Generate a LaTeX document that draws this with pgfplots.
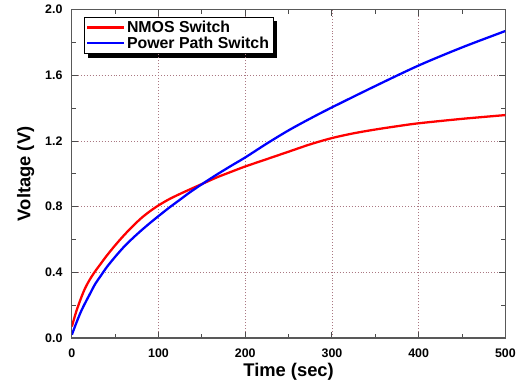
\documentclass[border=0pt]{standalone}
\usepackage{pgfplots}
\pgfplotsset{compat=1.18}
\usepackage{fontspec}
\setmainfont{Liberation Sans}
\usetikzlibrary{backgrounds}
\definecolor{gridc}{RGB}{170,120,130}
\begin{document}
\begin{tikzpicture}
\begin{axis}[
  scale only axis,
  width=437pt, height=331pt,
  xmin=0, xmax=500, ymin=0, ymax=2.0,
  xtick={0,100,200,300,400,500},
  ytick={0,0.4,0.8,1.2,1.6,2.0},
  minor x tick num=1, minor y tick num=1,
  tick align=inside,
  major tick length=6pt, minor tick length=4pt,
  axis line style={draw=black!65, line width=1.3pt},
  every tick/.style={black!70, line width=1pt},
  grid=major,
  major grid style={dash pattern=on 1pt off 2pt, color=gridc, line width=0.8pt},
  /pgf/number format/assume math mode=true,
  yticklabel style={xshift=-6pt, /pgf/number format/.cd, fixed, fixed zerofill, precision=1},
  xticklabel style={yshift=-7pt},
  ticklabel style={font=\fontsize{12.5}{14}\selectfont\bfseries},
  xlabel={Time (sec)}, ylabel={Voltage (V)},
  label style={font=\fontsize{18.5}{21}\selectfont\bfseries},
  xlabel style={yshift=1pt},
  ylabel style={yshift=4pt},
  legend style={name=leg, at={(0.0275,0.979)}, anchor=north west, draw=black, line width=0.8pt,
    font=\fontsize{16}{18}\selectfont\bfseries, row sep=-1pt, inner sep=2pt,
    fill=white},
  legend cell align=left,
  legend image code/.code={\draw[#1, line width=2.2pt] (0pt,0pt) -- (37pt,0pt);},
]
\addplot[red, line width=2.3pt, smooth] coordinates {
(0,0.07) (5,0.16) (10,0.235) (15,0.30) (20,0.35) (26,0.40) (32,0.443) (40,0.50) (50,0.565)
(60,0.625) (70,0.68) (80,0.73) (90,0.772) (100,0.808) (112,0.845) (124,0.876) (136,0.905)
(150,0.938) (167,0.978) (185,1.015) (200,1.045) (225,1.09) (250,1.135) (275,1.18) (300,1.218)
(325,1.247) (350,1.27) (375,1.29) (400,1.308) (450,1.335) (500,1.358)};
\addlegendentry{NMOS Switch}
\addplot[blue, line width=2.3pt, smooth] coordinates {
(0,0.02) (5,0.09) (10,0.155) (15,0.21) (20,0.26) (27,0.33) (33.5,0.38) (40,0.43) (50,0.495)
(60,0.555) (70,0.607) (80,0.655) (90,0.70) (100,0.743) (112,0.793) (124,0.84) (136,0.887)
(150,0.937) (167,0.995) (185,1.053) (200,1.10) (225,1.185) (250,1.265) (275,1.337) (300,1.405)
(350,1.535) (400,1.66) (450,1.77) (500,1.87)};
\addlegendentry{Power Path Switch}
\end{axis}
\begin{scope}[on background layer]
\fill[black] ([shift={(4pt,-4pt)}]leg.south west) rectangle ([shift={(4pt,-4pt)}]leg.north east);
\end{scope}
\path (current bounding box.west) ++(-14pt,0) (current bounding box.north) ++(0,2pt);
\end{tikzpicture}
\end{document}
